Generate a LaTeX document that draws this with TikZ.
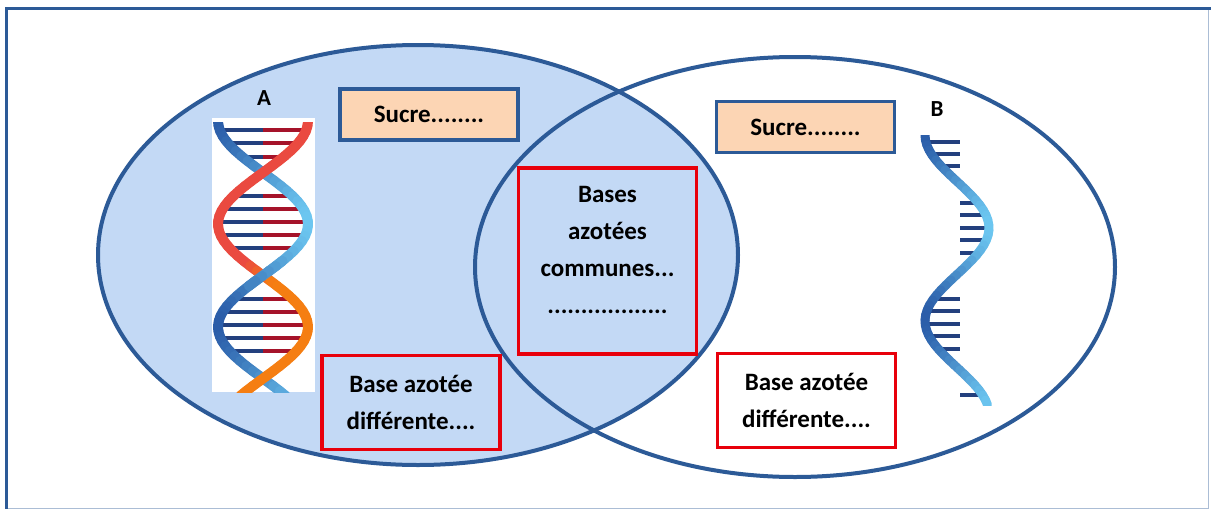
\documentclass[tikz,border=0pt]{standalone}
\usepackage{fontspec}
\setmainfont{Carlito}
\definecolor{venn}{HTML}{2C5A97}
\definecolor{vennfill}{HTML}{C3D9F5}
\definecolor{peach}{HTML}{FCD5B4}
\definecolor{boxred}{HTML}{E8000B}
\definecolor{dnadark}{HTML}{2A5CA8}
\definecolor{dnalight}{HTML}{6CC6F0}
\definecolor{dnared}{HTML}{EA4A40}
\definecolor{dnaorange}{HTML}{F57E12}
\definecolor{rungblue}{HTML}{23407E}
\definecolor{rungred}{HTML}{A5132A}
\begin{document}
\begin{tikzpicture}[x=1pt,y=-1pt]
\tikzstyle{every node}=[font=\bfseries\fontsize{25}{37}\selectfont,align=center,inner sep=0pt];
\tikzstyle{sucrebox}=[draw=venn,fill=peach,line width=3.5pt,minimum width=178pt,minimum height=51pt];
\tikzstyle{basebox}=[draw=boxred,line width=3.5pt,minimum width=178pt,minimum height=94pt];
\tikzstyle{setlabel}=[font=\bfseries\fontsize{23}{23}\selectfont];
\useasboundingbox (0,0) rectangle (1211,509);
\fill[white] (0,0) rectangle (1211,509);
% frame
\draw[venn!40,line width=1pt] (1208,8) -- (1208,508) -- (6,508);
\draw[venn,line width=3pt] (1211,8) -- (6,8) -- (6,509);
% the two sets
\filldraw[fill=vennfill,draw=venn,line width=4pt] (418,255) ellipse [x radius=320pt,y radius=210pt];
\draw[venn,line width=4pt] (795,267) ellipse [x radius=320pt,y radius=210pt];
% boxes
\node[sucrebox] (sucreA) at (429,114.5) {Sucre........};
\node[sucrebox] (sucreB) at (805.5,127) {Sucre........};
\node[basebox,minimum height=186pt] (communes) at (607.5,261) {};
\node (communestxt) at (607.5,250) {Bases\\azotées\\communes...\\..................};
\node[basebox] (diffA) at (411,402.5) {Base azotée\\différente....};
\node[basebox,fill=white] (diffB) at (806.5,400.5) {Base azotée\\différente....};
\node[setlabel] (labelA) at (264,98) {A};
\node[setlabel] (labelB) at (937,109) {B};
% DNA of A
\fill[white] (212,118) rectangle (315,392);
\begin{scope}
\clip (212,122) rectangle (315,392);
\foreach \y in {130,143,157,196,209,222,235,248,299,312,325,338,351}
{
\pgfmathsetmacro\c{abs(45*cos((\y-121)*1.74757))}
\draw[rungblue,line width=3.5pt] ({263-\c},\y) -- (263,\y);
\draw[rungred,line width=3.5pt] (263,\y) -- ({263+\c},\y);
}
\foreach \i in {0,...,54}
{
\pgfmathsetmacro\ya{121+5*\i}
\pgfmathsetmacro\yb{126+5*\i}
\pgfmathsetmacro\ca{45*cos((\ya-121)*1.74757)}
\pgfmathsetmacro\cb{45*cos((\yb-121)*1.74757)}
\pgfmathtruncatemacro\p{50+50*cos((\ya-118.5)*1.74757)}
\draw[dnadark!\p!dnalight,line width=10pt,line cap=round] ({263-\ca},\ya) -- ({263-\cb},\yb);
}
\foreach \i in {0,...,54}
{
\pgfmathsetmacro\ya{121+5*\i}
\pgfmathsetmacro\yb{126+5*\i}
\pgfmathsetmacro\ca{45*cos((\ya-121)*1.74757)}
\pgfmathsetmacro\cb{45*cos((\yb-121)*1.74757)}
\pgfmathtruncatemacro\p{max(0,min(100,(\ya-262)*5))}
\draw[dnaorange!\p!dnared,line width=10pt,line cap=round] ({263+\ca},\ya) -- ({263+\cb},\yb);
}
% blue passes in front at the middle crossing
\foreach \i in {28,...,32}
{
\pgfmathsetmacro\ya{121+5*\i}
\pgfmathsetmacro\yb{126+5*\i}
\pgfmathsetmacro\ca{45*cos((\ya-121)*1.74757)}
\pgfmathsetmacro\cb{45*cos((\yb-121)*1.74757)}
\pgfmathtruncatemacro\p{50+50*cos((\ya-118.5)*1.74757)}
\draw[dnadark!\p!dnalight,line width=10pt,line cap=round] ({263-\ca},\ya) -- ({263-\cb},\yb);
}
\end{scope}
% RNA of B
\begin{scope}
\clip (900,135) rectangle (1010,405);
\foreach \y in {142,154,166,203,215,228,240,253,299,311,324,336,349,395}
{
\pgfmathsetmacro\c{957-32*cos((\y-135)*1.93548)}
\draw[rungblue,line width=3.5pt] (\c,\y) -- (960,\y);
}
\foreach \i in {0,...,53}
{
\pgfmathsetmacro\ya{135+5*\i}
\pgfmathsetmacro\yb{140+5*\i}
\pgfmathsetmacro\xa{957-32*cos((\ya-135)*1.93548)}
\pgfmathsetmacro\xb{957-32*cos((\yb-135)*1.93548)}
\pgfmathtruncatemacro\p{50+50*cos((\ya-132.5)*1.93548)}
\draw[dnadark!\p!dnalight,line width=9pt,line cap=round] (\xa,\ya) -- (\xb,\yb);
}
\end{scope}
\end{tikzpicture}
\end{document}
